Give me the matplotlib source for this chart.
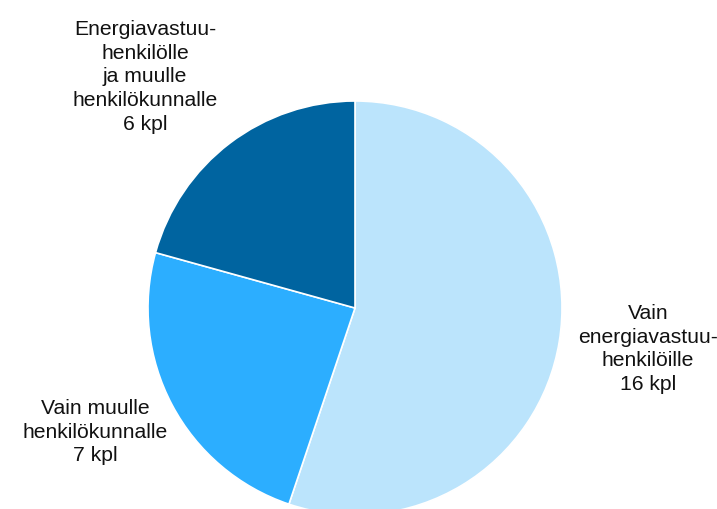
import matplotlib
matplotlib.use("Agg")
import matplotlib.pyplot as plt

labels = ["Vain\nenergiavastuu-\nhenkilöille\n16 kpl",
          "Vain muulle\nhenkilökunnalle\n7 kpl",
          "Energiavastuu-\nhenkilölle\nja muulle\nhenkilökunnalle\n6 kpl"]
values = [16, 7, 6]
colors = ["#BBE4FC", "#2CAEFF", "#0064A0"]

W, H = 717, 509
fig = plt.figure(figsize=(W / 100, H / 100), dpi=100)
ax = fig.add_axes([0, 0, 1, 1])
cx, cy, r = 355, 308, 207
ax.pie(values, colors=colors, startangle=90, counterclock=False, radius=1,
       wedgeprops=dict(edgecolor="white", linewidth=1.2))
ax.set_xlim(-cx / r, (W - cx) / r)
ax.set_ylim(-(H - cy) / r, cy / r)
ax.set_aspect("equal")
ax.axis("off")

# label positions (pixel centres)
pos = [(648, 349), (95, 432), (145, 77)]
for lab, (px, py) in zip(labels, pos):
    fig.text(px / W, 1 - py / H, lab, ha="center", va="center",
             fontsize=15.2, family="Liberation Sans", linespacing=1.32,
             color="#111111")

fig.savefig("out.png", dpi=100)
